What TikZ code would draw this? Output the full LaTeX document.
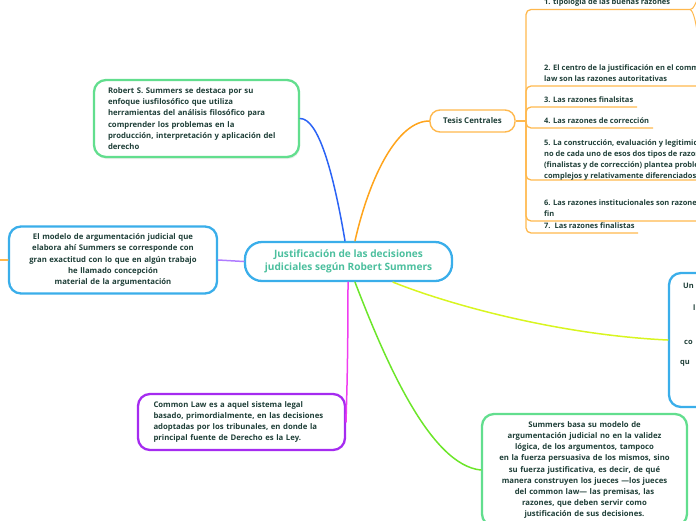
\documentclass[tikz,border=0pt]{standalone}
\usepackage{fontspec}
\setmainfont{Open Sans}
\usetikzlibrary{shadows}
\definecolor{txt}{HTML}{1F3F38}
\definecolor{ctitle}{HTML}{4CBF9E}
\definecolor{cblue}{HTML}{3AAEEA}
\definecolor{cgreen}{HTML}{62DE8E}
\definecolor{cpurple}{HTML}{A52BF0}
\definecolor{corange}{HTML}{FFB84D}
\definecolor{lorange}{HTML}{FFA41C}
\definecolor{lblue}{HTML}{2B63F5}
\definecolor{lpurple}{HTML}{B07CFF}
\definecolor{lmagenta}{HTML}{F03DF0}
\definecolor{lgreen}{HTML}{6CE62A}
\definecolor{lyellow}{HTML}{D8F520}
\tikzset{
  bigbox/.style={draw, line width=2.3pt, rounded corners=12pt, fill=white, text=txt,
    font=\fontsize{7.75}{11.2}\selectfont\bfseries, inner sep=0pt},
  itemtext/.style={anchor=south west, inner sep=0pt, align=left, text=txt,
    font=\fontsize{7.5}{11}\selectfont\bfseries},
  frag/.style={anchor=base west, inner sep=0pt, text=txt, font=\fontsize{7.5}{11}\selectfont\bfseries},
  conn/.style={line width=1.5pt, line cap=round},
  uline/.style={draw=corange, line width=1.3pt, rounded corners=5pt},
}
\begin{document}
\begin{tikzpicture}[x=1pt,y=-1pt]
\useasboundingbox (0,0) rectangle (696,520);

% central
\node[draw=cblue, line width=2.3pt, rounded corners=17pt, minimum width=207pt, minimum height=39pt,
  align=center, text=ctitle, font=\fontsize{10.1}{12.5}\selectfont\bfseries, inner sep=0pt]
  (c) at (348.5,261.5) {Justificación de las decisiones\\judiciales según Robert Summers};

% boxes
\node[bigbox, draw=cgreen, minimum width=205pt, minimum height=77pt, text width=177pt, align=left,
  drop shadow={opacity=0.15, shadow xshift=1pt, shadow yshift=-2pt}]
  (rob) at (196.5,118.5) {Robert S. Summers se destaca por su\\enfoque iusfilosófico que utiliza\\herramientas del análisis filosófico para\\comprender los problemas en la\\producción, interpretación y aplicación del\\derecho};

\node[bigbox, draw=cblue, minimum width=208pt, minimum height=67pt, text width=198pt, align=center]
  (mod) at (113,260) {El modelo de argumentación judicial que\\elabora ahí Summers se corresponde con\\gran exactitud con lo que en algún trabajo\\he llamado concepción\\material de la argumentación};

\node[bigbox, draw=cpurple, minimum width=207pt, minimum height=56pt, text width=176pt, align=left]
  (cl) at (241.5,422) {Common Law es a aquel sistema legal\\basado, primordialmente, en las decisiones\\adoptadas por los tribunales, en donde la\\principal fuente de Derecho es la Ley.};

\node[bigbox, draw=cgreen, minimum width=205pt, minimum height=112pt, text width=198pt, align=center]
  (sb) at (584.5,470) {Summers basa su modelo de\\argumentación judicial no en la validez\\lógica, de los argumentos, tampoco\\en la fuerza persuasiva de los mismos, sino\\su fuerza justificativa, es decir, de qué\\manera construyen los jueces —los jueces\\del common law— las premisas, las\\razones, que deben servir como\\justificación de sus decisiones.};

\node[bigbox, draw=cblue, minimum width=205pt, minimum height=134pt] (r) at (771.5,340) {};
\node[frag] (r1) at (683,288) {Un};
\node[frag] (r3) at (693,310) {l};
\node[frag] (r6) at (684,344) {co};
\node[frag] (r7) at (680,364) {qu};

\node[draw=corange, line width=1.4pt, rounded corners=10pt, minimum width=85pt, minimum height=22pt,
  inner sep=0pt, text=txt, font=\fontsize{7.9}{9}\selectfont\bfseries] (t) at (472.5,121) {Tesis Centrales};

% connectors
\coordinate (lend) at (0,260);
\draw[conn, draw=corange] (mod.west) -- (lend);
\draw[conn, draw=lblue] ([xshift=-3.5pt]c.north) .. controls (333,170) and (318,118.5) .. (rob.east);
\draw[conn, draw=lorange] ([xshift=6.5pt]c.north) .. controls (370,175) and (398,121) .. (t.west);
\draw[conn, draw=lpurple] (c.west) -- (mod.east);
\draw[conn, draw=lmagenta] ([xshift=-0.5pt]c.south) .. controls (348,380) and (346,410) .. (cl.east);
\draw[conn, draw=lgreen] ([xshift=6.5pt]c.south) .. controls (385,360) and (430,465) .. (sb.west);
\draw[conn, draw=lyellow] ([xshift=44.5pt]c.south) .. controls (450,305) and (560,335) .. (r.west);

% tesis items
\coordinate (tj) at (526,121);
\draw[draw=corange, line width=1.3pt] (t.east) -- (tj);
\draw[uline] (tj) -- (526,9.5) -- (690,9.5);
\draw[uline] (tj) -- (526,86) -- (700,86);
\draw[uline] (tj) -- (526,107) -- (637,107);
\draw[uline] (tj) -- (526,128) -- (653,128);
\draw[uline] (tj) -- (526,180) -- (700,180);
\draw[uline] (tj) -- (526,221) -- (700,221);
\draw[uline] (tj) -- (526,233) -- (638,233);
\draw[draw=corange, line width=1pt] (690,9.5) .. controls (694,9.5) and (695,3) .. (698,-1);
\draw[draw=corange, line width=1pt] (690,9.5) .. controls (694,11) and (696,25) .. (698,36);

\node[itemtext] (i1) at (544,7.8) {1. tipología de las buenas razones\strut};
\node[itemtext] (i2) at (544,85) {2. El centro de la justificación en el common\\law son las razones autoritativas\strut};
\node[itemtext] (i3) at (544,105.5) {3. Las razones finalsitas\strut};
\node[itemtext] (i4) at (544,126.5) {4. Las razones de corrección\strut};
\node[itemtext] (i5) at (544,181.5) {5. La construcción, evaluación y legitimidad\\no de cada uno de esos dos tipos de razones\\(finalistas y de corrección) plantea problemas\\complejos y relativamente diferenciados\strut};
\node[itemtext] (i6) at (544,220) {6. Las razones institucionales son razones\\fin\strut};
\node[itemtext] (i7) at (544,231.5) {7.\ \ Las razones finalistas\strut};
\end{tikzpicture}
\end{document}
